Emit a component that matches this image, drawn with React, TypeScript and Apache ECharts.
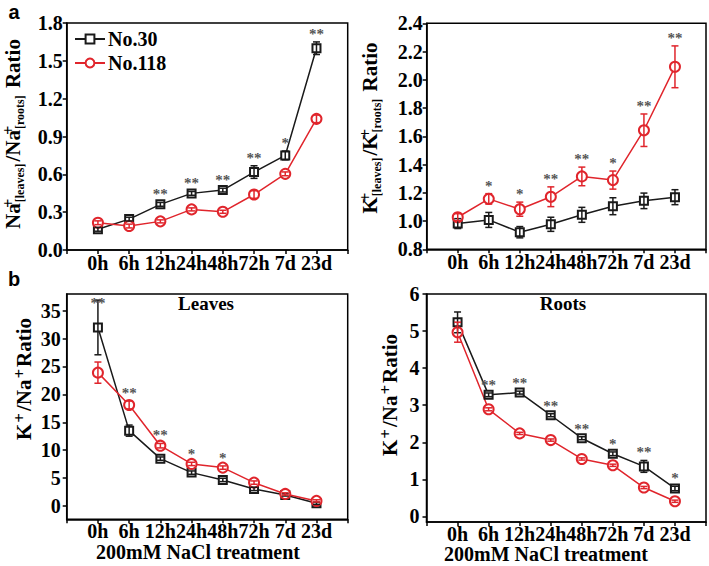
import React, { useEffect, useRef } from "react";
import * as echarts from "echarts";

const categories = ["0h", "6h", "12h", "24h", "48h", "72h", "7d", "23d"];

// Panel a (left): Na+ leaves/roots ratio
const naRatio30 = [0.164, 0.245, 0.362, 0.449, 0.475, 0.618, 0.75, 1.6];
const naRatio30Err = [0.015, 0.015, 0.015, 0.015, 0.015, 0.05, 0.035, 0.05];
const naRatio118 = [0.216, 0.19, 0.227, 0.322, 0.303, 0.44, 0.604, 1.04];
const naRatio118Err = [0.015, 0.015, 0.012, 0.012, 0.012, 0.03, 0.015, 0.03];
const naSig = ["", "", "**", "**", "**", "**", "*", "**"];
const naTicks = [0, 0.3, 0.6, 0.9, 1.2, 1.5, 1.8];

// Panel a (right): K+ leaves/roots ratio
const kRatio30 = [0.982, 1.008, 0.921, 0.977, 1.044, 1.105, 1.143, 1.169];
const kRatio30Err = [0.035, 0.053, 0.04, 0.05, 0.053, 0.06, 0.055, 0.053];
const kRatio118 = [1.027, 1.157, 1.084, 1.172, 1.316, 1.29, 1.643, 2.092];
const kRatio118Err = [0.025, 0.037, 0.05, 0.07, 0.066, 0.064, 0.115, 0.148];
const kSig = ["", "*", "*", "**", "**", "*", "**", "**"];
const kTicks = [0.8, 1.0, 1.2, 1.4, 1.6, 1.8, 2.0, 2.2, 2.4];

// Panel b (left): Leaves K+/Na+
const leaves30 = [32.0, 13.5, 8.48, 5.97, 4.66, 3.05, 1.97, 0.48];
const leaves30Err = [4.9, 1.0, 0.3, 0.3, 0.3, 0.3, 0.2, 0.2];
const leaves118 = [23.9, 18.1, 10.8, 7.53, 6.87, 4.18, 2.15, 0.9];
const leaves118Err = [1.9, 0.7, 0.4, 0.3, 0.3, 0.3, 0.2, 0.2];
const leavesSig = ["**", "**", "**", "*", "*", "", "", ""];
const leavesTicks = [0, 5, 10, 15, 20, 25, 30, 35];

// Panel b (right): Roots K+/Na+
const roots30 = [5.235, 3.28, 3.34, 2.73, 2.11, 1.69, 1.35, 0.754];
const roots30Err = [0.28, 0.05, 0.04, 0.04, 0.04, 0.05, 0.16, 0.06];
const roots118 = [4.97, 2.89, 2.24, 2.06, 1.55, 1.38, 0.78, 0.41];
const roots118Err = [0.27, 0.04, 0.03, 0.03, 0.03, 0.03, 0.03, 0.03];
const rootsSig = ["", "**", "**", "**", "**", "*", "**", "*"];
const rootsTicks = [0, 1, 2, 3, 4, 5, 6];

const seriesNames = ["No.30", "No.118"];

const FONT = "Liberation Serif, Times New Roman, serif";
const SANS = "Liberation Sans, Arial, sans-serif";
const BLACK = "#1a1a1a";
const RED = "#e0252c";

type Panel = {
  grid: { left: number; top: number; width: number; height: number };
  yMin: number;
  yMax: number;
  ticks: number[];
  decimals: number;
  labelMargin: number;
  xMargin: number;
  s30: number[];
  e30: number[];
  s118: number[];
  e118: number[];
  sig: string[];
};

const panels: Panel[] = [
  { grid: { left: 66.7, top: 23, width: 281, height: 227 }, yMin: 0, yMax: 1.8, ticks: naTicks, decimals: 1, labelMargin: 4, xMargin: 4,
    s30: naRatio30, e30: naRatio30Err, s118: naRatio118, e118: naRatio118Err, sig: naSig },
  { grid: { left: 426.7, top: 23.3, width: 280, height: 226 }, yMin: 0.8, yMax: 2.4, ticks: kTicks, decimals: 1, labelMargin: 4, xMargin: 4,
    s30: kRatio30, e30: kRatio30Err, s118: kRatio118, e118: kRatio118Err, sig: kSig },
  { grid: { left: 66.7, top: 294, width: 281, height: 225.3 }, yMin: -2.4, yMax: 38, ticks: leavesTicks, decimals: 0, labelMargin: 6, xMargin: 3,
    s30: leaves30, e30: leaves30Err, s118: leaves118, e118: leaves118Err, sig: leavesSig },
  { grid: { left: 426.5, top: 294, width: 280, height: 228 }, yMin: -0.15, yMax: 6, ticks: rootsTicks, decimals: 0, labelMargin: 7, xMargin: 3,
    s30: roots30, e30: roots30Err, s118: roots118, e118: roots118Err, sig: rootsSig },
];

function errSeries(gi: number, vals: number[], errs: number[], color: string) {
  return {
    type: "custom",
    name: "err" + gi + color,
    xAxisIndex: gi,
    yAxisIndex: gi,
    z: 4,
    silent: true,
    data: vals.map((v, k) => [k, v - errs[k], v + errs[k]]),
    renderItem: (params: any, api: any) => {
      const x = api.value(0);
      const lo = api.coord([x, api.value(1)]);
      const hi = api.coord([x, api.value(2)]);
      const w = 3.5;
      const st = { stroke: color, lineWidth: 1.5 };
      return {
        type: "group",
        children: [
          { type: "line", shape: { x1: lo[0], y1: lo[1], x2: hi[0], y2: hi[1] }, style: st },
          { type: "line", shape: { x1: lo[0] - w, y1: lo[1], x2: lo[0] + w, y2: lo[1] }, style: st },
          { type: "line", shape: { x1: hi[0] - w, y1: hi[1], x2: hi[0] + w, y2: hi[1] }, style: st },
        ],
      };
    },
  };
}

function sigSeries(gi: number, p: Panel) {
  const items = p.sig
    .map((s, k) => ({ s, k }))
    .filter((o) => o.s);
  const texts = items.map((o) => o.s);
  return {
    type: "custom",
    name: "sig" + gi,
    xAxisIndex: gi,
    yAxisIndex: gi,
    z: 5,
    silent: true,
    data: items.map((o) => [o.k, Math.max(p.s30[o.k] + p.e30[o.k], p.s118[o.k] + p.e118[o.k])]),
    renderItem: (params: any, api: any) => {
      const pt = api.coord([api.value(0), api.value(1)]);
      const top = params.coordSys.y;
      const y = Math.max(pt[1] - 8, top + 9);
      return {
        type: "text",
        x: pt[0],
        y,
        style: {
          text: texts[params.dataIndex],
          fill: "#555",
          fontFamily: FONT,
          fontWeight: "bold",
          fontSize: 15,
          align: "center",
          verticalAlign: "middle",
        },
      };
    },
  };
}

const base = { fontWeight: "bold", fontFamily: FONT, fill: "#000", color: "#000", lineHeight: 26 };
const richTitle = {
  m: { ...base, fontSize: 21 },
  p: { ...base, fontSize: 16, verticalAlign: "top", width: 0 },
  q: { ...base, fontSize: 17, verticalAlign: "top", padding: [0, 2, 0, 1] },
  s: { ...base, fontSize: 12, verticalAlign: "bottom", padding: [0, 2, 0, 1] },
};

function vTitle(x: number, y: number, text: string) {
  return {
    type: "text",
    x,
    y,
    rotation: Math.PI / 2,
    style: { text, rich: richTitle, align: "center", verticalAlign: "middle", fill: "#000" },
  };
}

function hText(x: number, y: number, text: string, size: number, family = FONT, lh = 0) {
  return {
    type: "text",
    x,
    y,
    style: {
      text,
      fill: "#000",
      fontFamily: family,
      fontWeight: "bold",
      fontSize: size,
      lineHeight: lh || size,
      align: "center",
      verticalAlign: "middle",
    },
  };
}

export default function App() {
  const ref = useRef<HTMLDivElement>(null);
  useEffect(() => {
    if (!ref.current) return;
    const chart = echarts.init(ref.current, undefined, { renderer: "svg" });
    const axisLine = { show: true, onZero: false, lineStyle: { color: "#000", width: 1.5 } };

    const grids = panels.map((p) => ({
      left: p.grid.left,
      top: p.grid.top,
      width: p.grid.width,
      height: p.grid.height,
      show: true,
      borderColor: "#000",
      borderWidth: 1.5,
      backgroundColor: "transparent",
      containLabel: false,
    }));

    const xAxes = panels.map((p, i) => ({
      type: "value",
      gridIndex: i,
      min: -1,
      max: 8,
      interval: 1,
      axisLine,
      axisTick: { show: true, length: 4, lineStyle: { color: "#000", width: 1.5 } },
      splitLine: { show: false },
      axisLabel: {
        margin: p.xMargin,
        color: "#000",
        fontFamily: FONT,
        fontWeight: "bold",
        fontSize: 20,
        lineHeight: 18,
        formatter: (v: number) => categories[v] ?? "",
        showMinLabel: true,
        showMaxLabel: true,
      },
    }));

    const yAxes = panels.map((p, i) => ({
      type: "value",
      gridIndex: i,
      min: p.yMin,
      max: p.yMax,
      axisLine,
      splitLine: { show: false },
      axisTick: { show: true, length: 4, customValues: p.ticks, lineStyle: { color: "#000", width: 1.5 } },
      axisLabel: {
        margin: p.labelMargin,
        color: "#000",
        fontFamily: FONT,
        fontWeight: "bold",
        fontSize: 20,
        customValues: p.ticks,
        formatter: (v: number) => v.toFixed(p.decimals),
      },
    }));

    const series: any[] = [];
    panels.forEach((p, i) => {
      series.push({
        type: "line",
        name: seriesNames[0],
        xAxisIndex: i,
        yAxisIndex: i,
        z: 2,
        data: p.s30.map((v, k) => [k, v]),
        symbol: "emptyRect",
        symbolSize: 8,
        color: BLACK,
        itemStyle: { color: BLACK, borderWidth: 1.5 },
        lineStyle: { color: BLACK, width: 1.5 },
      });
      series.push({
        type: "line",
        name: seriesNames[1],
        xAxisIndex: i,
        yAxisIndex: i,
        z: 2,
        data: p.s118.map((v, k) => [k, v]),
        symbol: "emptyCircle",
        symbolSize: 10,
        color: RED,
        itemStyle: { color: RED, borderWidth: 1.5 },
        lineStyle: { color: RED, width: 1.5 },
      });
      series.push(errSeries(i, p.s30, p.e30, BLACK));
      series.push(errSeries(i, p.s118, p.e118, RED));
      series.push(sigSeries(i, p));
    });

    chart.setOption({
      animation: false,
      backgroundColor: "#fff",
      grid: grids,
      xAxis: xAxes,
      yAxis: yAxes,
      legend: {
        data: seriesNames,
        left: 69,
        top: 24,
        orient: "vertical",
        itemWidth: 30,
        itemHeight: 11,
        itemGap: 4,
        selectedMode: false,
        textStyle: { color: "#000", fontFamily: FONT, fontWeight: "bold", fontSize: 20, padding: [0, 0, 0, -2] },
      },
      series,
      graphic: [
        hText(14, 12, "a", 20, SANS, 14),
        hText(14, 279, "b", 20, SANS, 14),
        vTitle(13, 134, "{m|Na}{p|+}{s|[leaves]}{m|/Na}{p|+}{s|[roots]}{m| Ratio}"),
        vTitle(370, 128, "{m|K}{p|+}{s|[leaves]}{m|/K}{p|+}{s|[roots]}{m| Ratio}"),
        vTitle(24, 379, "{m|K}{q|+}{m|/Na}{q|+}{m|Ratio}"),
        vTitle(390, 395, "{m|K}{q|+}{m|/Na}{q|+}{m|Ratio}"),
        hText(206, 303, "Leaves", 19),
        hText(563, 303, "Roots", 19),
        hText(198, 552, "200mM NaCl treatment", 20, FONT, 14),
        hText(546, 554, "200mM NaCl treatment", 20, FONT, 14),
      ],
    });
    return () => chart.dispose();
  }, []);
  return (
    <div
      ref={ref}
      style={{ position: "fixed", left: 0, top: 0, width: 709, height: 566, background: "#fff" }}
    />
  );
}
